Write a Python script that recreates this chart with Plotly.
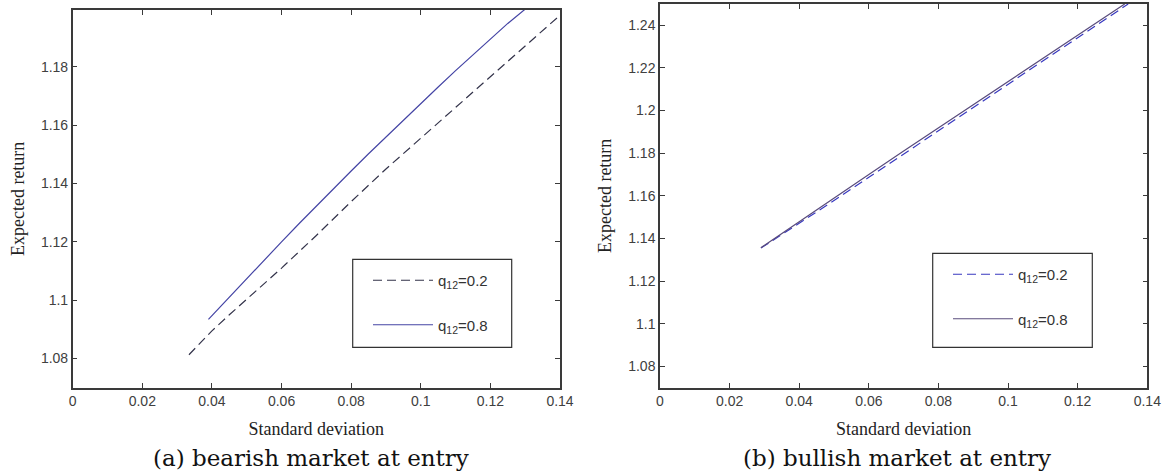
import plotly.graph_objects as go
from plotly.subplots import make_subplots

# (a) bearish market at entry
bear_x_08 = [0.039, 0.045, 0.05, 0.055, 0.06, 0.065, 0.07, 0.075, 0.08, 0.085,
             0.09, 0.095, 0.10, 0.105, 0.11, 0.115, 0.12, 0.125, 0.13]
bear_y_08 = [1.0934, 1.1011, 1.1075, 1.1138, 1.1200, 1.1262, 1.1323, 1.1383, 1.1443, 1.1502,
             1.1560, 1.1618, 1.1675, 1.1731, 1.1787, 1.1842, 1.1896, 1.1949, 1.1998]
bear_x_02 = [0.0334, 0.04, 0.045, 0.05, 0.06, 0.07, 0.08, 0.09, 0.10, 0.11, 0.12, 0.13, 0.14]
bear_y_02 = [1.0813, 1.0895, 1.0950, 1.1003, 1.1110, 1.1222, 1.1338, 1.1450, 1.1555, 1.1660,
             1.1768, 1.1872, 1.1977]

# (b) bullish market at entry
bull_x_08 = [0.029, 0.035, 0.04, 0.05, 0.06, 0.07, 0.08, 0.09, 0.10, 0.11, 0.12, 0.13, 0.1335]
bull_y_08 = [1.1357, 1.1424, 1.1479, 1.1590, 1.1700, 1.1810, 1.1919, 1.2028, 1.2137, 1.2246,
             1.2355, 1.2463, 1.2500]
bull_x_02 = [0.029, 0.035, 0.04, 0.05, 0.06, 0.07, 0.08, 0.09, 0.10, 0.11, 0.12, 0.13, 0.1345]
bull_y_02 = [1.1355, 1.1418, 1.1470, 1.1578, 1.1687, 1.1796, 1.1905, 1.2014, 1.2123, 1.2232,
             1.2341, 1.2450, 1.2500]

x_ticks = [0, 0.02, 0.04, 0.06, 0.08, 0.1, 0.12, 0.14]
x_labels = ["0", "0.02", "0.04", "0.06", "0.08", "0.1", "0.12", "0.14"]

W, H = 1163, 476

fig = make_subplots(rows=1, cols=2)

dash = "9px,5px"
fig.add_trace(go.Scatter(x=bear_x_02, y=bear_y_02, mode="lines", name="q<sub>12</sub>=0.2",
                         line=dict(color="#33334a", width=1.2, dash=dash),
                         legend="legend", legendgroup="a1"),
              row=1, col=1)
fig.add_trace(go.Scatter(x=bear_x_08, y=bear_y_08, mode="lines", name="q<sub>12</sub>=0.8",
                         line=dict(color="#4545a5", width=1.2),
                         legend="legend", legendgroup="a2"),
              row=1, col=1)
fig.add_trace(go.Scatter(x=bull_x_02, y=bull_y_02, mode="lines", name="q<sub>12</sub>=0.2",
                         line=dict(color="#3838c0", width=1.2, dash=dash),
                         legend="legend2", legendgroup="b1"),
              row=1, col=2)
fig.add_trace(go.Scatter(x=bull_x_08, y=bull_y_08, mode="lines", name="q<sub>12</sub>=0.8",
                         line=dict(color="#5a4c7c", width=1.2),
                         legend="legend2", legendgroup="b2"),
              row=1, col=2)

tick_font = dict(family="Liberation Sans, Arial", size=14, color="#404040")
title_font = dict(family="Liberation Serif, Times New Roman", size=18, color="#222222")

axis_common = dict(showline=True, linecolor="#3a3a3a", linewidth=1.5, mirror="ticks",
                   ticks="inside", ticklen=5, tickcolor="#3a3a3a", tickwidth=1.2,
                   showgrid=False, zeroline=False, tickfont=tick_font, automargin=False)

fig.update_xaxes(**axis_common, range=[0, 0.14], tickvals=x_ticks, ticktext=x_labels,
                 title=dict(text="Standard deviation", font=title_font, standoff=14))
fig.update_xaxes(domain=[72.7 / W, 560 / W], row=1, col=1)
fig.update_xaxes(domain=[660 / W, 1147.3 / W], row=1, col=2)

fig.update_yaxes(**axis_common, dtick=0.02, tick0=1.08,
                 title=dict(text="Expected return", font=title_font, standoff=12))
fig.update_yaxes(range=[1.07, 1.1995], domain=[1 - 387.7 / H, 1 - 10 / H], row=1, col=1)
fig.update_yaxes(range=[1.07, 1.25], domain=[1 - 387.7 / H, 1 - 4 / H], row=1, col=2)

# legend boxes
for x0, y0, x1, y1 in [(352.7, 259.3, 511.7, 347.3), (932.7, 253.3, 1092.3, 347.3)]:
    fig.add_shape(type="rect", xref="paper", yref="paper",
                  x0=x0 / W, x1=x1 / W, y0=1 - y1 / H, y1=1 - y0 / H,
                  line=dict(color="#333333", width=1.2), fillcolor="rgba(0,0,0,0)")

legend_style = dict(bgcolor="rgba(0,0,0,0)", borderwidth=0, tracegroupgap=22,
                    traceorder="grouped",
                    font=dict(family="Liberation Sans, Arial", size=15, color="#333333"),
                    xanchor="left", yanchor="top", itemwidth=60)
fig.update_layout(
    legend=dict(**legend_style, x=368 / W, y=1 - 264 / H),
    legend2=dict(**legend_style, x=948 / W, y=1 - 258 / H),
)

caption_font = dict(family="DejaVu Serif", size=23, color="#111111")
fig.add_annotation(text="(a) bearish market at entry", xref="paper", yref="paper",
                   x=311 / W, y=1 - 458 / H, xanchor="center", yanchor="middle",
                   showarrow=False, font=caption_font)
fig.add_annotation(text="(b) bullish market at entry", xref="paper", yref="paper",
                   x=897 / W, y=1 - 458 / H, xanchor="center", yanchor="middle",
                   showarrow=False, font=caption_font)

fig.update_layout(
    width=W, height=H,
    margin=dict(l=0, r=0, t=0, b=0),
    plot_bgcolor="white", paper_bgcolor="white",
)

# drop the page's default body margin so the figure sits at the window corner
fig.write_html("out.html", config={"displayModeBar": False},
               post_script="document.body.style.margin='0';")
